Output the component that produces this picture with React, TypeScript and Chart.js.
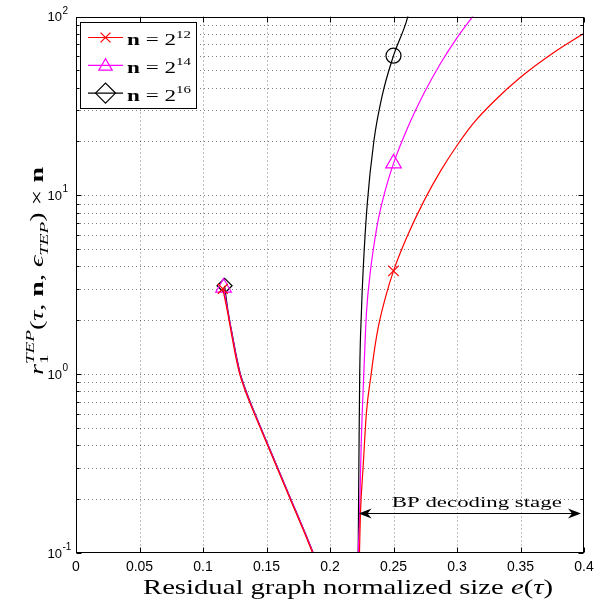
import React, { useEffect, useRef } from "react";
import { Chart, registerables } from "chart.js";
import { drawPoint } from "chart.js/helpers";

Chart.register(...registerables);

// ---------------- data ----------------
const seriesNames = ["n = 2^12", "n = 2^14", "n = 2^16"];
const seriesExps = ["12", "14", "16"];
const seriesColors = ["#ff0000", "#ff00ff", "#000000"];

// left branch (decreasing part)
const n12LeftX = [0.1156, 0.1192, 0.1226, 0.1258, 0.1289, 0.1326, 0.1366, 0.1406, 0.1500, 0.1596, 0.1696, 0.1802, 0.1863];
const n12LeftY = [3.0, 2.25, 1.65, 1.25, 1.0, 0.832, 0.700, 0.596, 0.414, 0.285, 0.193, 0.128, 0.1];
const n14LeftX = [0.1162, 0.1195, 0.1230, 0.1262, 0.1293, 0.1330, 0.1370, 0.1410, 0.1504, 0.1600, 0.1700, 0.1806, 0.1867];
const n14LeftY = [3.05, 2.25, 1.65, 1.25, 1.0, 0.832, 0.700, 0.596, 0.414, 0.285, 0.193, 0.128, 0.1];
const n16LeftX = [0.1170, 0.1197, 0.1232, 0.1264, 0.1295, 0.1332, 0.1372, 0.1412, 0.1505, 0.1601, 0.1701, 0.1807, 0.1868];
const n16LeftY = [3.12, 2.25, 1.65, 1.25, 1.0, 0.832, 0.700, 0.596, 0.414, 0.285, 0.193, 0.128, 0.1];

// right branch (BP decoding stage)
const n12RightX = [0.2232, 0.2240, 0.2261, 0.2287, 0.2324, 0.2354, 0.2384, 0.2440, 0.2500, 0.2608, 0.2740, 0.2871, 0.3000, 0.3125, 0.3300, 0.3500, 0.3765, 0.4000];
const n12RightY = [0.1, 0.168, 0.304, 0.61, 1.0, 1.43, 1.89, 2.74, 3.78, 5.9, 9.31, 13.7, 19.0, 25.1, 34.0, 45.7, 63.1, 80.5];
const n14RightX = [0.2222, 0.2232, 0.2245, 0.2266, 0.2287, 0.2319, 0.2354, 0.2384, 0.2440, 0.2500, 0.2608, 0.2740, 0.2871, 0.3000, 0.3125, 0.3160];
const n14RightY = [0.1, 0.153, 0.39, 1.0, 2.2, 3.8, 5.73, 7.55, 10.96, 15.1, 23.6, 37.2, 54.8, 76.0, 100.2, 108];
const n16RightX = [0.2222, 0.2228, 0.2234, 0.2248, 0.2261, 0.2293, 0.2345, 0.2411, 0.2500, 0.2600, 0.2635];
const n16RightY = [0.1, 0.35, 1.0, 2.29, 3.82, 8.9, 20, 36.1, 60.4, 93, 115];

const markerX = 0.25; // markers on the right branch sit at e = 0.25
const leftMarkerStyles = ["crossRot", "triangle", "rectRot"];
const rightMarkerStyles = ["crossRot", "triangle", "circle"];
const leftMarkerRadius = [7, 9, 7.5];
const rightMarkerRadius = [7.5, 9, 7.5];

const xTicks = [0, 0.05, 0.1, 0.15, 0.2, 0.25, 0.3, 0.35, 0.4];
const xTickLabels = ["0", "0.05", "0.1", "0.15", "0.2", "0.25", "0.3", "0.35", "0.4"];
const yDecades = [0.1, 1, 10, 100];
const yExps = ["-1", "0", "1", "2"];

const annotationText = "BP decoding stage";
const arrowFromX = 0.2225;
const arrowToX = 0.4;
const arrowY = 0.167;

// ---------------- helpers ----------------
type Seg = { t: string; f: string; dy?: number; keep?: boolean };

function layoutSegs(ctx: CanvasRenderingContext2D, segs: Seg[]) {
  let x = 0;
  let kept = 0;
  const pos: number[] = [];
  for (const s of segs) {
    ctx.font = s.f;
    const w = ctx.measureText(s.t).width;
    pos.push(x);
    if (s.keep) kept = w;
    else {
      x += Math.max(w, kept);
      kept = 0;
    }
  }
  return { pos, width: x };
}

function drawRich(
  ctx: CanvasRenderingContext2D,
  segs: Seg[],
  x: number,
  y: number,
  align: "left" | "center",
  targetW?: number
) {
  const { pos, width } = layoutSegs(ctx, segs);
  const sx = targetW ? targetW / width : 1;
  ctx.save();
  ctx.translate(x, y);
  ctx.scale(sx, 1);
  const x0 = align === "center" ? -width / 2 : 0;
  ctx.fillStyle = "#000";
  ctx.textAlign = "left";
  ctx.textBaseline = "alphabetic";
  segs.forEach((s, i) => {
    ctx.font = s.f;
    ctx.fillText(s.t, x0 + pos[i], s.dy || 0);
  });
  ctx.restore();
}

const SERIF = "'Liberation Serif', 'DejaVu Serif', serif";
const SANS = "'Liberation Sans', Arial, sans-serif";

function buildPoints(lx: number[], ly: number[], rx: number[], ry: number[]) {
  const pts: { x: number; y: number | null }[] = [];
  lx.forEach((x, i) => pts.push({ x, y: ly[i] }));
  pts.push({ x: (lx[lx.length - 1] + rx[0]) / 2, y: null });
  rx.forEach((x, i) => pts.push({ x, y: ry[i] }));
  return pts;
}

const leftXs = [n12LeftX, n14LeftX, n16LeftX];
const leftYs = [n12LeftY, n14LeftY, n16LeftY];
const rightXs = [n12RightX, n14RightX, n16RightX];
const rightYs = [n12RightY, n14RightY, n16RightY];

export default function App() {
  const ref = useRef<HTMLCanvasElement | null>(null);

  useEffect(() => {
    if (!ref.current) return;

    const datasets = seriesNames.map((name, k) => {
      const lx = leftXs[k];
      const data = buildPoints(lx, leftYs[k], rightXs[k], rightYs[k]);
      const radius: number[] = [];
      const styles: string[] = [];
      data.forEach((p, i) => {
        if (i === 0) {
          radius.push(leftMarkerRadius[k]);
          styles.push(leftMarkerStyles[k]);
        } else if (i > lx.length && p.x === markerX) {
          radius.push(rightMarkerRadius[k]);
          styles.push(rightMarkerStyles[k]);
        } else {
          radius.push(0);
          styles.push("circle");
        }
      });
      return {
        label: name,
        data,
        borderColor: seriesColors[k],
        backgroundColor: seriesColors[k],
        borderWidth: 1.2,
        pointRadius: radius,
        pointHoverRadius: radius,
        pointStyle: styles as any,
        pointBorderColor: seriesColors[k],
        pointBackgroundColor: "rgba(0,0,0,0)",
        pointBorderWidth: 1.2,
        spanGaps: false,
        cubicInterpolationMode: "monotone" as const,
        fill: false,
      };
    });

    const decorations = {
      id: "matlabDecor",
      beforeDatasetsDraw(chart: any) {
        const ctx: CanvasRenderingContext2D = chart.ctx;
        const a = chart.chartArea;
        const xs = chart.scales.x;
        const ys = chart.scales.y;
        ctx.save();
        ctx.strokeStyle = "rgba(0,0,0,0.5)";
        ctx.lineWidth = 1;
        ctx.setLineDash([1, 3]);
        xTicks.forEach((v) => {
          const px = Math.round(xs.getPixelForValue(v)) + 0.5;
          if (px <= a.left + 1 || px >= a.right - 1) return;
          ctx.beginPath();
          ctx.moveTo(px, a.top);
          ctx.lineTo(px, a.bottom);
          ctx.stroke();
        });
        yDecades.forEach((d) => {
          for (let m = 1; m <= 9; m++) {
            const v = d * m;
            if (v > 100.0001) continue;
            const py = Math.round(ys.getPixelForValue(v)) + 0.5;
            if (py <= a.top + 1 || py >= a.bottom - 1) continue;
            ctx.beginPath();
            ctx.moveTo(a.left, py);
            ctx.lineTo(a.right, py);
            ctx.stroke();
          }
        });
        ctx.restore();
      },
      afterDatasetsDraw(chart: any) {
        const ctx: CanvasRenderingContext2D = chart.ctx;
        const a = chart.chartArea;
        const xs = chart.scales.x;
        const ys = chart.scales.y;
        const L = Math.round(a.left) + 0.5;
        const R = Math.round(a.right) - 0.5;
        const T = Math.round(a.top) + 0.5;
        const B = Math.round(a.bottom) - 0.5;

        ctx.save();
        ctx.setLineDash([]);
        ctx.strokeStyle = "#000";
        ctx.lineWidth = 1;
        ctx.strokeRect(L, T, R - L, B - T);
        xTicks.forEach((v) => {
          const px = Math.round(xs.getPixelForValue(v)) + 0.5;
          ctx.beginPath();
          ctx.moveTo(px, B);
          ctx.lineTo(px, B - 5);
          ctx.moveTo(px, T);
          ctx.lineTo(px, T + 5);
          ctx.stroke();
        });
        yDecades.forEach((d) => {
          for (let m = 1; m <= 9; m++) {
            const v = d * m;
            if (v > 100.0001) continue;
            const py = Math.round(ys.getPixelForValue(v)) + 0.5;
            const len = m === 1 ? 5 : 3;
            ctx.beginPath();
            ctx.moveTo(L, py);
            ctx.lineTo(L + len, py);
            ctx.moveTo(R, py);
            ctx.lineTo(R - len, py);
            ctx.stroke();
          }
        });

        // x tick labels
        ctx.fillStyle = "#000";
        ctx.font = `14px ${SANS}`;
        ctx.textAlign = "center";
        ctx.textBaseline = "middle";
        xTicks.forEach((v, i) => {
          ctx.fillText(xTickLabels[i], xs.getPixelForValue(v), a.bottom + 14);
        });
        // y tick labels
        yDecades.forEach((v, i) => {
          const py = ys.getPixelForValue(v);
          ctx.font = `13px ${SANS}`;
          ctx.textAlign = "right";
          ctx.textBaseline = "middle";
          ctx.fillText("10", a.left - 14, py + 1);
          ctx.font = `10px ${SANS}`;
          ctx.textAlign = "left";
          ctx.textBaseline = "alphabetic";
          ctx.fillText(yExps[i], a.left - 13.5, py - 3);
        });

        // x axis title
        drawRich(
          ctx,
          [
            { t: "Residual graph normalized size ", f: `22px ${SERIF}` },
            { t: "e", f: `italic 22px ${SERIF}` },
            { t: "(", f: `22px ${SERIF}` },
            { t: "τ", f: `italic 22px ${SERIF}` },
            { t: ")", f: `22px ${SERIF}` },
          ],
          143,
          594,
          "left",
          410
        );

        // y axis title (rotated)
        ctx.save();
        ctx.translate(43, 271);
        ctx.rotate(-Math.PI / 2);
        drawRich(
          ctx,
          [
            { t: "r", f: `italic 19px ${SERIF}` },
            { t: "TEP", f: `italic 13px ${SERIF}`, dy: -9, keep: true },
            { t: "1", f: `13px ${SERIF}`, dy: 5 },
            { t: "(", f: `19px ${SERIF}` },
            { t: "τ", f: `italic 19px ${SERIF}` },
            { t: ", ", f: `19px ${SERIF}` },
            { t: "n", f: `bold 19px ${SERIF}` },
            { t: ", ", f: `19px ${SERIF}` },
            { t: "ϵ", f: `italic 19px ${SERIF}` },
            { t: "TEP", f: `italic 13px ${SERIF}`, dy: 5 },
            { t: ")", f: `19px ${SERIF}` },
            { t: " × ", f: `19px ${SERIF}` },
            { t: "n", f: `bold 19px ${SERIF}` },
          ],
          0,
          0,
          "center",
          208
        );
        ctx.restore();

        // annotation arrow
        const ax1 = xs.getPixelForValue(arrowFromX);
        const ax2 = xs.getPixelForValue(arrowToX) - 3;
        const ay = Math.round(ys.getPixelForValue(arrowY)) + 0.5;
        ctx.beginPath();
        ctx.moveTo(ax1 + 4, ay);
        ctx.lineTo(ax2 - 4, ay);
        ctx.stroke();
        const head = (tip: number, dir: number) => {
          ctx.beginPath();
          ctx.moveTo(tip, ay);
          ctx.lineTo(tip + dir * 13, ay - 5);
          ctx.lineTo(tip + dir * 9, ay);
          ctx.lineTo(tip + dir * 13, ay + 5);
          ctx.closePath();
          ctx.fill();
        };
        ctx.fillStyle = "#000";
        head(ax1, 1);
        head(ax2, -1);
        drawRich(
          ctx,
          [{ t: annotationText, f: `15px ${SERIF}` }],
          (ax1 + ax2) / 2 + 7,
          ay - 6.5,
          "center",
          170
        );

        // legend
        const lx = 80.5, ly = 22.5, lw = 116, lh = 86;
        ctx.fillStyle = "#fff";
        ctx.fillRect(lx, ly, lw, lh);
        ctx.strokeStyle = "#000";
        ctx.lineWidth = 1;
        ctx.strokeRect(lx, ly, lw, lh);
        const legendMarkerR = [7, 7.7, 10];
        seriesNames.forEach((_, k) => {
          const cy = ly + 15 + k * 27.8;
          ctx.save();
          ctx.strokeStyle = seriesColors[k];
          ctx.fillStyle = "rgba(0,0,0,0)";
          ctx.lineWidth = 1.2;
          ctx.beginPath();
          ctx.moveTo(88, cy);
          ctx.lineTo(123, cy);
          ctx.stroke();
          drawPoint(
            ctx,
            {
              pointStyle: leftMarkerStyles[k] as any,
              radius: legendMarkerR[k],
              rotation: 0,
              borderWidth: 1.2,
            } as any,
            105.5,
            cy + (k === 1 ? 1 : 0)
          );
          ctx.restore();
          drawRich(
            ctx,
            [
              { t: "n", f: `bold 17px ${SERIF}` },
              { t: " = 2", f: `17px ${SERIF}` },
              { t: seriesExps[k], f: `11px ${SERIF}`, dy: -7.5 },
            ],
            127,
            cy + 7.5,
            "left",
            64
          );
        });
        ctx.restore();
      },
    };

    const chart = new Chart(ref.current, {
      type: "line",
      data: { datasets: datasets as any },
      options: {
        animation: false,
        responsive: false,
        maintainAspectRatio: false,
        events: [],
        layout: { padding: { left: 76, right: 19, top: 16.5, bottom: 50 } },
        plugins: {
          legend: { display: false },
          tooltip: { enabled: false },
          title: { display: false },
        },
        scales: {
          x: { type: "linear", min: 0, max: 0.4, display: false },
          y: { type: "logarithmic", min: 0.1, max: 100, display: false },
        },
      },
      plugins: [decorations as any],
    });
    return () => chart.destroy();
  }, []);

  return (
    <div style={{ position: "fixed", left: 0, top: 0, width: 603, height: 603, background: "#fff" }}>
      <canvas ref={ref} width={603} height={603} style={{ width: 603, height: 603, display: "block" }} />
    </div>
  );
}
